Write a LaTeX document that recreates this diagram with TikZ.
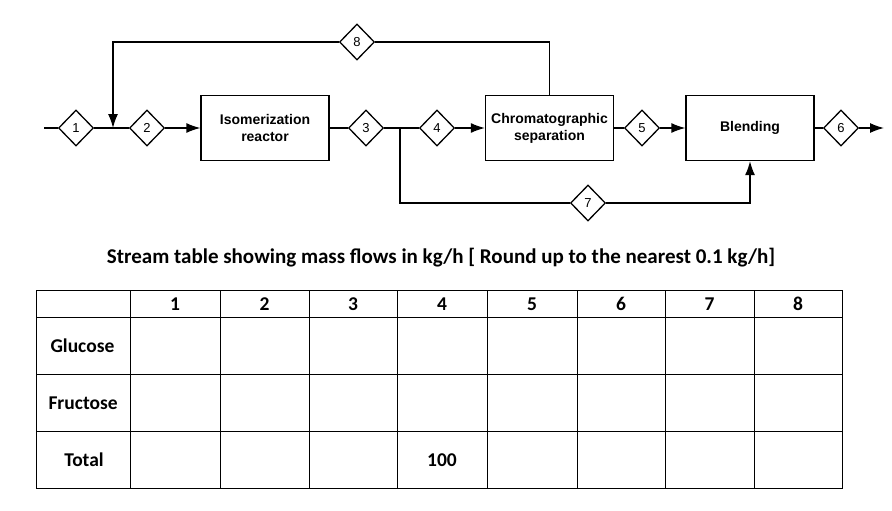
\documentclass[tikz,border=0pt]{standalone}
\usepackage{fontspec}
\setmainfont{Liberation Sans}
\newfontfamily\tablefont{Carlito}
\usetikzlibrary{shapes.geometric,arrows.meta,positioning,calc}
\tikzset{
    % Unit block style
    unit/.style={
        rectangle,
        draw,
        line width=1.3pt,
        minimum width=128pt,
        minimum height=65pt,
        align=center,
        font=\fontsize{14}{17}\selectfont\bfseries
    },
    % Stream number tag
    tag/.style={
        diamond,
        draw,
        fill=white,
        line width=1.3pt,
        minimum width=35pt,
        minimum height=36pt,
        inner sep=0pt,
        font=\fontsize{13}{15}\selectfont
    },
    % Arrow styles
    flow/.style={-{Latex[length=14pt, width=10pt]}, line width=1.3pt},
    line/.style={line width=1.3pt},
    % Table cell text
    cell/.style={font=\fontsize{19.5}{22}\selectfont\tablefont\bfseries}
}
\begin{document}
\begin{tikzpicture}[x=1pt, y=-1pt]
    \useasboundingbox (0,0) rectangle (892,511);

    % Units
    \node[unit] (reactor) at (265,128) {Isomerization\\reactor};
    \node[unit] (chrom) at (549.5,128) {Chromatographic\\separation};
    \node[unit] (blend) at (750,128) {Blending};

    % Stream tags
    \node[tag] (s1) at (76,128) {1};
    \node[tag] (s2) at (147,128) {2};
    \node[tag] (s3) at (366,128) {3};
    \node[tag] (s4) at (437,128) {4};
    \node[tag] (s5) at (642,128) {5};
    \node[tag] (s6) at (841,128) {6};
    \node[tag] (s7) at (588,203) {7};
    \node[tag] (s8) at (357,42) {8};

    % Junctions and ends
    \coordinate (feed) at (44,128);
    \coordinate (mix) at (113,128);
    \coordinate (split) at (400,128);
    \coordinate (product) at (884,128);

    % Main line
    \draw[line] (feed) -- (s1) -- (mix) -- (s2);
    \draw[flow] (s2) -- (reactor);
    \draw[line] (reactor) -- (s3) -- (split) -- (s4);
    \draw[flow] (s4) -- (chrom);
    \draw[line] (chrom) -- (s5);
    \draw[flow] (s5) -- (blend);
    \draw[line] (blend) -- (s6);
    \draw[flow] (s6) -- (product);

    % Recycle
    \draw[line] (chrom.north) |- (s8);
    \draw[flow] (s8) -| (mix);

    % Bypass
    \draw[line] (split) |- (s7);
    \draw[flow] (s7) -| (blend.south);

    % Stream table
    \node[font=\fontsize{21}{24}\selectfont\tablefont\bfseries] (title) at (441,258)
        {Stream table showing mass flows in kg/h [ Round up to the nearest 0.1 kg/h]};
    \draw[line width=1pt] (36,290) rectangle (842,488);
    \foreach \y in {317,374,431}
        \draw[line width=1pt] (36,\y) -- (842,\y);
    \foreach \x in {130,220,309,397,487,577,665,754}
        \draw[line width=1pt] (\x,290) -- (\x,488);
    \foreach \n/\x in {1/175,2/264.5,3/353,4/442,5/532,6/621,7/709.5,8/798}
        \node[cell] (h\n) at (\x,304) {\n};
    \node[cell, anchor=west] (glucose) at (47,346) {Glucose};
    \node[cell, anchor=west] (fructose) at (45,403) {Fructose};
    \node[cell] (total) at (84,460) {Total};
    \node[cell] (t4) at (442,460) {100};
\end{tikzpicture}
\end{document}
